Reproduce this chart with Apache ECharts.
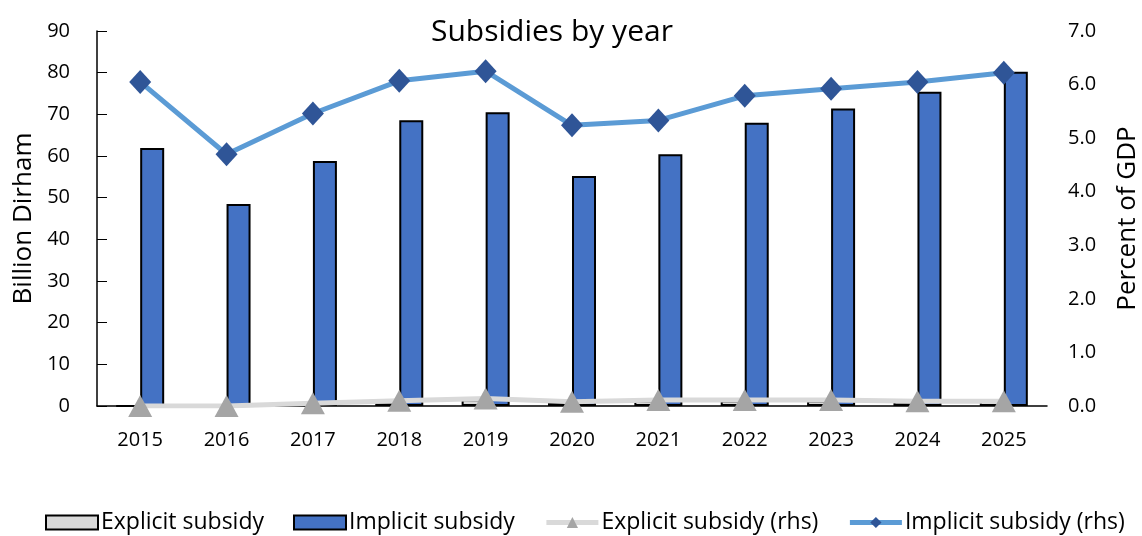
<!DOCTYPE html>
<html>
<head>
<meta charset="utf-8">
<script src="https://cdn.jsdelivr.net/npm/echarts@6/dist/echarts.min.js"></script>
<style>
  html, body { margin: 0; padding: 0; background: #fff; }
  #chart { width: 1142px; height: 536px; }
</style>
</head>
<body>
<div id="chart"></div>
<script>
const years = ['2015', '2016', '2017', '2018', '2019', '2020', '2021', '2022', '2023', '2024', '2025'];
// billion dirham (lhs)
const explicitBn = [0.0, 0.0, 0.5, 1.1, 1.6, 0.8, 1.3, 1.3, 1.3, 1.1, 1.2];
const implicitBn = [61.9, 48.5, 58.8, 68.6, 70.5, 55.2, 60.4, 68.0, 71.4, 75.4, 80.2];
// percent of GDP (rhs)
const explicitPct = [0.0, 0.0, 0.05, 0.1, 0.14, 0.08, 0.11, 0.11, 0.11, 0.09, 0.09];
const implicitPct = [6.05, 4.7, 5.46, 6.07, 6.25, 5.24, 5.33, 5.79, 5.92, 6.05, 6.22];

const font = 'Open Sans';

const chart = echarts.init(document.getElementById('chart'), null, { renderer: 'canvas' });

chart.setOption({
  animation: false,
  textStyle: { fontFamily: font, color: '#000' },
  title: {
    text: 'Subsidies by year',
    left: 426,
    top: 12,
    textStyle: { fontFamily: font, fontSize: 30, fontWeight: 'normal', color: '#000' },
  },
  grid: { left: 97, right: 95, top: 31, bottom: 130, containLabel: false, outerBoundsMode: 'none' },
  legend: {
    bottom: 2,
    left: 45,
    width: 1097,
    padding: 0,
    itemWidth: 52,
    itemHeight: 14,
    itemGap: 29,
    textStyle: { fontFamily: font, fontSize: 23, color: '#000', padding: [0, 0, 0, -2] },
    data: [
      { name: 'Explicit subsidy', icon: 'rect' },
      { name: 'Implicit subsidy', icon: 'rect' },
      { name: 'Explicit subsidy (rhs)', lineStyle: { width: 5 } },
      { name: 'Implicit subsidy (rhs)', lineStyle: { width: 5 } },
    ],
  },
  xAxis: {
    type: 'category',
    data: years,
    axisLine: { lineStyle: { color: '#000', width: 1.5 } },
    axisTick: { inside: true, length: 4, lineStyle: { color: '#000' } },
    axisLabel: { fontSize: 20, color: '#000', margin: 24 },
  },
  yAxis: [
    {
      type: 'value',
      min: 0, max: 90, interval: 10,
      name: 'Billion Dirham',
      nameLocation: 'middle',
      nameGap: 59,
      nameTextStyle: { fontSize: 26, color: '#000' },
      axisLine: { show: true, lineStyle: { color: '#000', width: 1.5 } },
      axisTick: { show: true, inside: true, length: 10, lineStyle: { color: '#000' } },
      axisLabel: { fontSize: 20, color: '#000', margin: 27 },
      splitLine: { show: false },
    },
    {
      type: 'value',
      min: 0, max: 7, interval: 1,
      name: 'Percent of GDP',
      nameLocation: 'middle',
      nameGap: 68,
      nameTextStyle: { fontSize: 26, color: '#000' },
      axisLine: { show: false },
      axisTick: { show: false },
      axisLabel: { fontSize: 20, color: '#000', margin: 21, formatter: v => v.toFixed(1) },
      splitLine: { show: false },
    },
  ],
  series: [
    {
      name: 'Explicit subsidy',
      type: 'bar',
      yAxisIndex: 0,
      data: explicitBn,
      barWidth: 24,
      barGap: '0%',
      itemStyle: { color: '#d9d9d9', borderColor: '#000', borderWidth: 2 },
      z: 2,
    },
    {
      name: 'Implicit subsidy',
      type: 'bar',
      yAxisIndex: 0,
      data: implicitBn,
      barWidth: 24,
      barGap: '0%',
      itemStyle: { color: '#4472c4', borderColor: '#000', borderWidth: 2 },
      z: 2,
    },
    {
      name: 'Explicit subsidy (rhs)',
      type: 'line',
      yAxisIndex: 1,
      data: explicitPct,
      symbol: 'triangle',
      symbolSize: [24, 22],
      lineStyle: { color: '#d9d9d9', width: 5 },
      itemStyle: { color: '#a5a5a5' },
      z: 3,
    },
    {
      name: 'Implicit subsidy (rhs)',
      type: 'line',
      yAxisIndex: 1,
      data: implicitPct,
      symbol: 'diamond',
      symbolSize: [22, 24],
      lineStyle: { color: '#5b9bd5', width: 5 },
      itemStyle: { color: '#2f5597' },
      z: 4,
    },
  ],
});
</script>
</body>
</html>
